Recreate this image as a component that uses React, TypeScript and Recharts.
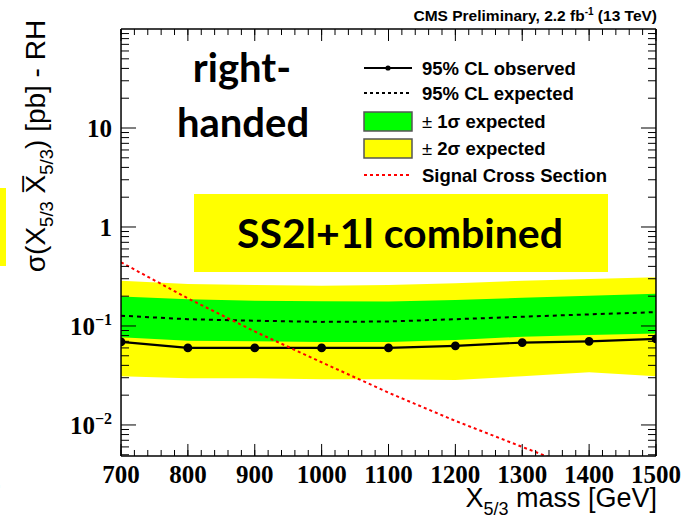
import { ComposedChart, Area, Line, XAxis, YAxis, Legend, Customized } from 'recharts';

// X5/3 mass points (GeV)
const masses = [700, 800, 900, 1000, 1100, 1200, 1300, 1400, 1500];

// limits in pb
const observed = [0.069, 0.06, 0.06, 0.06, 0.06, 0.063, 0.068, 0.07, 0.074];
const expected = [0.127, 0.117, 0.113, 0.11, 0.111, 0.117, 0.124, 0.131, 0.138];
const oneSigmaLow = [0.077, 0.071, 0.07, 0.069, 0.069, 0.072, 0.078, 0.081, 0.084];
const oneSigmaHigh = [0.198, 0.186, 0.18, 0.178, 0.177, 0.183, 0.193, 0.202, 0.212];
const twoSigmaLow = [0.031, 0.0296, 0.0296, 0.029, 0.029, 0.0285, 0.031, 0.034, 0.031];
const twoSigmaHigh = [0.287, 0.266, 0.26, 0.255, 0.26, 0.27, 0.287, 0.299, 0.31];
const signalXsec = [0.44, 0.19, 0.088, 0.043, 0.0212, 0.011, 0.006, 0.0033, 0.0019];

const xMajorTicks = [700, 800, 900, 1000, 1100, 1200, 1300, 1400, 1500];
const xMinorTicks = Array.from({ length: 41 }, (_, i) => 700 + i * 20);
const yMajorTicks = [0.01, 0.1, 1, 10];
const yMinorTicks = [
  0.005, 0.006, 0.007, 0.008, 0.009,
  0.02, 0.03, 0.04, 0.05, 0.06, 0.07, 0.08, 0.09,
  0.2, 0.3, 0.4, 0.5, 0.6, 0.7, 0.8, 0.9,
  2, 3, 4, 5, 6, 7, 8, 9,
  20, 30, 40, 50, 60, 70, 80, 90,
];
const yTickText: Record<string, [string, string]> = {
  '10': ['10', ''],
  '1': ['1', ''],
  '0.1': ['10', '\u22121'],
  '0.01': ['10', '\u22122'],
};

const data = masses.map((mass, i) => ({
  mass,
  observed: observed[i],
  expected: expected[i],
  oneSigma: [oneSigmaLow[i], oneSigmaHigh[i]],
  twoSigma: [twoSigmaLow[i], twoSigmaHigh[i]],
  signal: signalXsec[i],
}));

const X_DOMAIN: [number, number] = [700, 1500];
const Y_DOMAIN: [number, number] = [0.00486, 100];
const THIN = 0.01; // axes must have a size > 0 to be drawn
const serif = '"Liberation Serif", "Times New Roman", serif';
const sans = '"Liberation Sans", Arial, sans-serif';

const noTick = () => <g />;

const XTick = ({ x, y, payload }: any) => (
  <text x={x} y={y + 27} textAnchor="middle" fontFamily={serif} fontWeight="bold" fontSize={25} fill="#000">
    {payload.value}
  </text>
);

const YTick = ({ x, y, payload }: any) => {
  const [base, exp] = yTickText[String(payload.value)] || [String(payload.value), ''];
  return (
    <text x={x} y={y + 9} textAnchor="end" fontFamily={serif} fontWeight="bold" fontSize={25} fill="#000">
      {base}
      {exp ? (
        <tspan dy={-10} fontSize={16}>
          {exp}
        </tspan>
      ) : null}
    </text>
  );
};

const LegendBox = () => (
  <svg width={310} height={140} style={{ display: 'block' }}>
    <g fontFamily={sans} fontWeight="bold" fontSize={18.5} fill="#000">
      <line x1={9} x2={57} y1={18} y2={18} stroke="#000" strokeWidth={2} />
      <circle cx={33} cy={18} r={2.6} fill="#000" />
      <text x={67} y={24.5}>95% CL observed</text>

      <line x1={9} x2={57} y1={43} y2={43} stroke="#000" strokeWidth={1.8} strokeDasharray="3 3" />
      <text x={67} y={49.5}>95% CL expected</text>

      <rect x={9} y={62} width={48} height={19} fill="#00ff00" stroke="#555" strokeWidth={1.5} />
      <text x={67} y={77.5}>
        <tspan fontWeight="normal">±</tspan> 1σ expected
      </text>

      <rect x={9} y={89} width={48} height={19} fill="#ffff00" stroke="#555" strokeWidth={1.5} />
      <text x={67} y={104.5}>
        <tspan fontWeight="normal">±</tspan> 2σ expected
      </text>

      <line x1={9} x2={57} y1={125} y2={125} stroke="#ff0000" strokeWidth={1.8} strokeDasharray="3 3" />
      <text x={67} y={131.5}>Signal Cross Section</text>
    </g>
  </svg>
);

const Annotations = () => (
  <g>
    {/* header */}
    <text x={657} y={21} textAnchor="end" fontFamily={sans} fontWeight="bold" fontSize={15.5} fill="#000">
      CMS Preliminary, 2.2 fb
      <tspan dy={-6} fontSize={10}>-1</tspan>
      <tspan dy={6}> (13 TeV)</tspan>
    </text>

    {/* slide text */}
    <g fontFamily="Lato, sans-serif" fontWeight="bold" fill="#000">
      <text x={242} y={82} textAnchor="middle" fontSize={40}>right-</text>
      <text x={243} y={137} textAnchor="middle" fontSize={40}>handed</text>
    </g>
    <rect x={194} y={194} width={414} height={78} fill="#ffff00" />
    <text x={400} y={248} textAnchor="middle" fontFamily="Lato, sans-serif" fontWeight="bold" fontSize={41} fill="#000">
      SS2l+1l combined
    </text>

    {/* cut-off slide bits at the left edge */}
    <rect x={0} y={188} width={6} height={78} fill="#ffff00" />
    <text x={-6} y={492} fontFamily={sans} fontSize={20} fill="#000">)</text>

    {/* axis titles */}
    <text x={657} y={507} textAnchor="end" fontFamily={sans} fontSize={27} fill="#000">
      X<tspan dy={8} fontSize={18}>5/3</tspan>
      <tspan dy={-8}> mass [GeV]</tspan>
    </text>
    <text transform="rotate(-90)" x={-146} y={45} textAnchor="middle" fontFamily={sans} fontSize={28} fill="#000">
      σ(X<tspan dy={8} fontSize={18.5}>5/3</tspan>
      <tspan dy={-8}> X{'\u0305'}</tspan>
      <tspan dy={8} fontSize={18.5}>5/3</tspan>
      <tspan dy={-8}>) [pb] - RH</tspan>
    </text>
  </g>
);

export default function App() {
  return (
    <div style={{ position: 'absolute', left: 0, top: 0, width: 682, height: 522, background: '#fff' }}>
      <ComposedChart width={682} height={522} data={data} margin={{ top: 29, right: 26, bottom: 66, left: 121 }}>
        {/* frame: bottom / top with major + minor ticks pointing inward */}
        <XAxis xAxisId="bminor" dataKey="mass" type="number" domain={X_DOMAIN} allowDataOverflow ticks={xMinorTicks}
          interval={0} height={THIN} tickSize={-6} tick={noTick} axisLine={false} tickLine={{ stroke: '#000' }} />
        <XAxis dataKey="mass" type="number" domain={X_DOMAIN} allowDataOverflow ticks={xMajorTicks}
          interval={0} height={THIN} tickSize={-12} tickMargin={12} tick={XTick}
          axisLine={{ stroke: '#000', strokeWidth: 1.5 }} tickLine={{ stroke: '#000' }} />
        <XAxis xAxisId="tminor" orientation="top" dataKey="mass" type="number" domain={X_DOMAIN} allowDataOverflow
          ticks={xMinorTicks} interval={0} height={THIN} tickSize={-6} tick={noTick} axisLine={false} tickLine={{ stroke: '#000' }} />
        <XAxis xAxisId="top" orientation="top" dataKey="mass" type="number" domain={X_DOMAIN} allowDataOverflow
          ticks={xMajorTicks} interval={0} height={THIN} tickSize={-12} tick={noTick}
          axisLine={{ stroke: '#000', strokeWidth: 1.5 }} tickLine={{ stroke: '#000' }} />

        {/* frame: left / right, log scale */}
        <YAxis yAxisId="lminor" scale="log" type="number" domain={Y_DOMAIN} allowDataOverflow ticks={yMinorTicks}
          interval={0} width={THIN} tickSize={-8} tick={noTick} axisLine={false} tickLine={{ stroke: '#000' }} />
        <YAxis scale="log" type="number" domain={Y_DOMAIN} allowDataOverflow ticks={yMajorTicks}
          interval={0} width={THIN} tickSize={-15} tickMargin={24} tick={YTick}
          axisLine={{ stroke: '#000', strokeWidth: 1.5 }} tickLine={{ stroke: '#000' }} />
        <YAxis yAxisId="rminor" orientation="right" scale="log" type="number" domain={Y_DOMAIN} allowDataOverflow
          ticks={yMinorTicks} interval={0} width={THIN} tickSize={-8} tick={noTick} axisLine={false} tickLine={{ stroke: '#000' }} />
        <YAxis yAxisId="right" orientation="right" scale="log" type="number" domain={Y_DOMAIN} allowDataOverflow
          ticks={yMajorTicks} interval={0} width={THIN} tickSize={-15} tick={noTick}
          axisLine={{ stroke: '#000', strokeWidth: 1.5 }} tickLine={{ stroke: '#000' }} />

        <Area dataKey="twoSigma" type="linear" fill="#ffff00" fillOpacity={1} stroke="none" activeDot={false} isAnimationActive={false} />
        <Area dataKey="oneSigma" type="linear" fill="#00ff00" fillOpacity={1} stroke="none" activeDot={false} isAnimationActive={false} />
        <Line dataKey="expected" type="linear" stroke="#000" strokeWidth={2} strokeDasharray="4 4" dot={false} activeDot={false} isAnimationActive={false} />
        <Line dataKey="observed" type="linear" stroke="#000" strokeWidth={2.2} dot={{ r: 3.3, fill: '#000', stroke: '#000' }} activeDot={false} isAnimationActive={false} />
        <Line dataKey="signal" type="linear" stroke="#ff0000" strokeWidth={2} strokeDasharray="3 3" dot={false} activeDot={false} isAnimationActive={false} />

        <Legend content={LegendBox} layout="vertical" align="center" verticalAlign="middle"
          wrapperStyle={{ left: 355, top: 50, width: 310, height: 140 }} />
        <Customized component={Annotations} />
      </ComposedChart>
    </div>
  );
}
